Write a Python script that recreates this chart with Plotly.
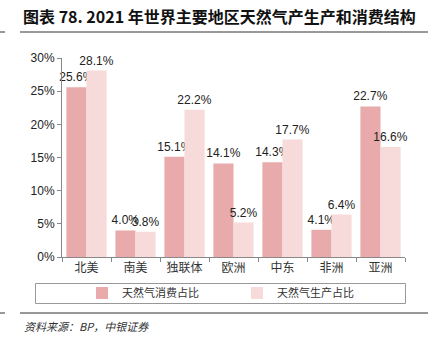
import plotly.graph_objects as go

regions = ["北美", "南美", "独联体", "欧洲", "中东", "非洲", "亚洲"]
consumption = [25.6, 4.0, 15.1, 14.1, 14.3, 4.1, 22.7]
production = [28.1, 3.8, 22.2, 5.2, 17.7, 6.4, 16.6]
series_names = ["天然气消费占比", "天然气生产占比"]
y_ticks = [0, 5, 10, 15, 20, 25, 30]
y_tick_labels = [f"{v}%" for v in y_ticks]

W, H = 432, 344
L, R, T, B = 62, 27, 58, 87
PW, PH = W - L - R, H - T - B


def px(x):
    return (x - L) / PW


def py(y):
    return (H - B - y) / PH


label_font = dict(family="Liberation Sans, Arial", size=12, color="#222")

fig = go.Figure()
fig.add_trace(go.Bar(
    x=regions, y=consumption, name=series_names[0],
    marker=dict(color="#E8AAAA", line=dict(width=0)),
    texttemplate="%{y:.1f}%", textposition="outside", constraintext="none",
    textfont=label_font, cliponaxis=False,
))
fig.add_trace(go.Bar(
    x=regions, y=production, name=series_names[1],
    marker=dict(color="#F7DADA", line=dict(width=0)),
    texttemplate="%{y:.1f}%", textposition="outside", constraintext="none",
    textfont=label_font, cliponaxis=False,
))

shapes = [
    # rule under the title
    dict(type="line", xref="paper", yref="paper",
         x0=px(20), x1=px(428), y0=py(32), y1=py(32),
         line=dict(color="#333", width=1)),
    dict(type="line", xref="paper", yref="paper",
         x0=px(0), x1=px(5), y0=py(32), y1=py(32),
         line=dict(color="#333", width=1)),
    # rule above the source note
    dict(type="line", xref="paper", yref="paper",
         x0=px(20), x1=px(428), y0=py(313), y1=py(313),
         line=dict(color="#333", width=1)),
    dict(type="line", xref="paper", yref="paper",
         x0=px(0), x1=px(5), y0=py(313), y1=py(313),
         line=dict(color="#333", width=1)),
    # legend frame
    dict(type="rect", xref="paper", yref="paper",
         x0=px(35.5), x1=px(405.5), y0=py(283.5), y1=py(303.5),
         line=dict(color="#999", width=1)),
]

annotations = [
    dict(text="<b>图表 78. 2021 年世界主要地区天然气产生产和消费结构</b>",
         xref="paper", yref="paper", x=px(21), y=py(16),
         xanchor="left", yanchor="middle", showarrow=False,
         font=dict(family="Noto Sans CJK SC, Liberation Sans", size=16, color="#111")),
    dict(text="<i>资料来源：BP，中银证券</i>",
         xref="paper", yref="paper", x=px(22), y=py(326),
         xanchor="left", yanchor="middle", showarrow=False,
         font=dict(family="Noto Sans CJK SC, Liberation Sans", size=11, color="#333")),
]

fig.update_layout(
    width=W, height=H,
    margin=dict(l=L, r=R, t=T, b=B),
    paper_bgcolor="white", plot_bgcolor="white",
    barmode="group", bargap=0.18, bargroupgap=0.0,
    showlegend=True,
    legend=dict(
        orientation="h", x=px(82), y=py(293), xanchor="left", yanchor="middle",
        bgcolor="rgba(0,0,0,0)", borderwidth=0,
        entrywidth=110, entrywidthmode="pixels",
        font=dict(family="Noto Sans CJK SC", size=11, color="#333"),
        itemsizing="constant",
    ),
    xaxis=dict(
        showline=True, linecolor="#888", linewidth=1,
        ticks="outside", tickson="boundaries", ticklen=4, tickcolor="#888",
        tickfont=dict(family="Noto Sans CJK SC", size=12, color="#333"),
        showgrid=False, fixedrange=True,
    ),
    yaxis=dict(
        range=[0, 30], tickvals=y_ticks, ticktext=y_tick_labels,
        showline=True, linecolor="#888", linewidth=1,
        ticks="outside", ticklen=4, tickcolor="#888",
        tickfont=dict(family="Liberation Sans, Arial", size=12, color="#222"),
        showgrid=False, zeroline=False,
    ),
    shapes=shapes, annotations=annotations,
)

fig.write_html("out.html")
